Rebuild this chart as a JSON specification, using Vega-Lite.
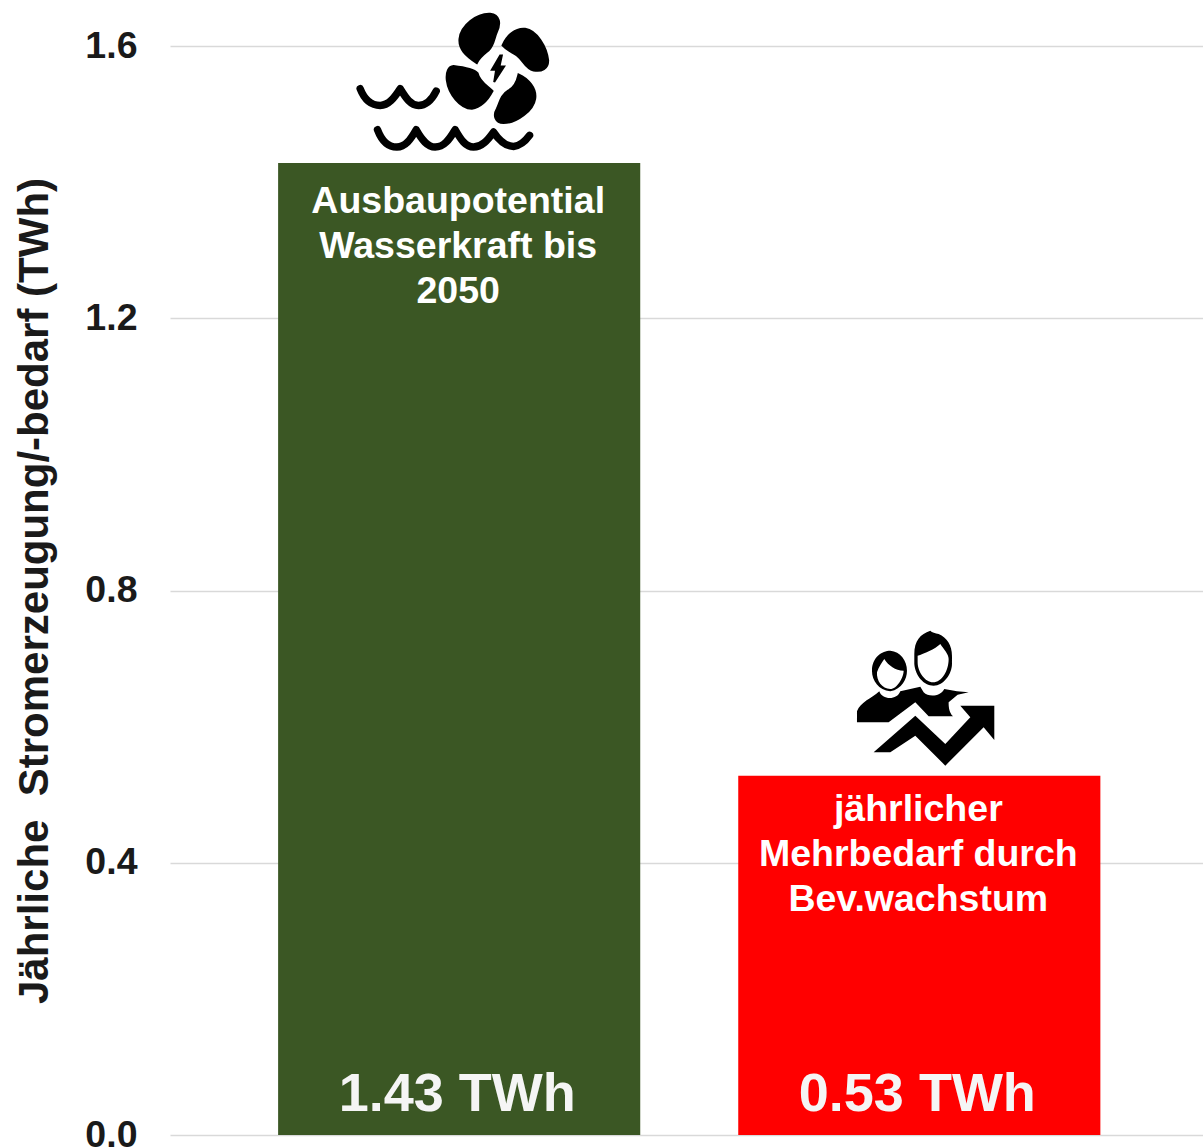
{
"$schema":"https://vega.github.io/schema/vega-lite/v6.json",
"width":1033,"height":1089,
"autosize":{"type":"none"},
"padding":{"left":170,"top":46,"right":0,"bottom":13},
"background":"white",
"view":{"stroke":null},
"config":{"font":"Liberation Sans"},
"data":{"values":[
{"name":"Ausbaupotential Wasserkraft bis 2050","value":1.428,"label":"Ausbaupotential\nWasserkraft bis\n2050","amount":"1.43 TWh"},
{"name":"jährlicher Mehrbedarf durch Bev.wachstum","value":0.528,"label":"jährlicher\nMehrbedarf durch\nBev.wachstum","amount":"0.53 TWh"}
]},
"encoding":{
"x":{"field":"name","type":"nominal","sort":null,"axis":null,"scale":{"paddingInner":0.213,"paddingOuter":0.229,"align":0.513}}
},
"layer":[
{"mark":{"type":"bar","clip":false},
"encoding":{
"y":{"field":"value","type":"quantitative","scale":{"domain":[0,1.6],"nice":false},
"axis":{"values":[0,0.4,0.8,1.2,1.6],"format":".1f","grid":true,"gridColor":"#d9d9d9","gridWidth":1.5,"domain":false,"ticks":false,"labelPadding":33,"labelFontSize":37.5,"labelFontWeight":"bold","labelColor":"#1a1a1a","labelFont":"Liberation Sans","title":"Jährliche\u00a0\u00a0Stromerzeugung/-bedarf (TWh)","titleFontSize":42,"titleFontWeight":"bold","titleColor":"#1a1a1a","titleFont":"Liberation Sans","titlePadding":28}},
"color":{"field":"name","type":"nominal","legend":null,"sort":null,"scale":{"range":["#3b5724","#ff0000"]}}
}},
{"mark":{"type":"text","fontSize":54,"fontWeight":"bold","color":"#f5f5f5","baseline":"alphabetic","align":"center","dy":-24,"dx":-2},
"encoding":{"y":{"datum":0,"type":"quantitative"},"text":{"field":"amount"}}},
{"transform":[{"filter":"datum.value > 1"}],"layer":[
{"mark":{"type":"text","lineBreak":"\n","lineHeight":45,"fontSize":37.5,"fontWeight":"bold","color":"white","baseline":"alphabetic","align":"center","dy":50,"dx":-1},
"encoding":{"y":{"field":"value","type":"quantitative"},"text":{"field":"label"}}},
{"mark":{"type":"point","filled":true,"opacity":1,"color":"black","stroke":"black","strokeWidth":2,"size":0.4444,"shape":"M53 -300C18 -323 -2 -343 1 -373C5 -413 53 -450 93 -448C123 -444 125 -418 113 -393C105 -376 105 -353 88 -338C73 -326 61 -318 53 -300ZM130 -353C143 -383 168 -406 198 -403C233 -398 263 -348 267 -308C267 -283 248 -273 223 -278C198 -283 193 -308 173 -323C158 -333 143 -338 130 -353ZM178 -266C208 -253 233 -223 228 -193C223 -158 173 -120 133 -120C108 -120 101 -143 113 -163C123 -183 123 -203 148 -218C163 -226 173 -243 178 -266ZM-17 -291C8 -288 43 -283 55 -270C61 -243 83 -233 100 -216C88 -193 68 -168 38 -163C3 -163 -32 -208 -37 -248C-40 -273 -32 -290 -17 -291ZM123 -323L98 -280L111 -280L105 -243L135 -290L121 -290L128 -323Z"},
"encoding":{"y":{"field":"value","type":"quantitative"}}},
{"mark":{"type":"point","filled":false,"opacity":1,"stroke":"black","strokeWidth":7.5,"strokeCap":"round","strokeJoin":"round","size":0.4444,"shape":"M-297 -223C-285 -192 -265 -173 -237 -173C-212 -173 -195 -195 -177 -223C-160 -195 -145 -173 -122 -173C-100 -173 -82 -190 -69 -216M-245 -100C-233 -68 -213 -48 -187 -48C-162 -48 -146 -70 -129 -100C-112 -70 -96 -48 -72 -48C-46 -48 -30 -70 -12 -100C5 -70 20 -48 43 -48C68 -48 85 -68 103 -93C120 -68 140 -50 163 -50C185 -52 198 -65 211 -83"},
"encoding":{"y":{"field":"value","type":"quantitative"}}}
]},
{"transform":[{"filter":"datum.value < 1"}],"layer":[
{"mark":{"type":"text","lineBreak":"\n","lineHeight":45,"fontSize":37.5,"fontWeight":"bold","color":"white","baseline":"alphabetic","align":"center","dy":45,"dx":-1},
"encoding":{"y":{"field":"value","type":"quantitative"},"text":{"field":"label"}}},
{"mark":{"type":"point","filled":true,"opacity":1,"color":"black","size":0.4444,"shape":"M-187 -160L-187 -193C-177 -220 -142 -233 -120 -253C-112 -227 -67 -225 -57 -253L3 -267L13 -250C28 -235 63 -237 75 -260L113 -253L148 -250L115 -243L88 -220C88 -210 88 -190 101 -178L28 -178L-12 -220L-92 -160ZM-137 -70L-12 -180L78 -95L153 -175L123 -210L225 -210L225 -107L193 -145L78 -30L-12 -120L-87 -70ZM-142 -315C-142 -355 -112 -375 -87 -375C-57 -373 -37 -345 -37 -315C-37 -290 -52 -260 -87 -253C-122 -257 -142 -285 -142 -315ZM-15 -365C-15 -405 3 -425 33 -435C38 -430 48 -427 58 -425C83 -415 98 -390 98 -360L98 -335C98 -305 73 -270 43 -270C13 -270 -12 -300 -15 -335Z"},
"encoding":{"y":{"field":"value","type":"quantitative"}}},
{"mark":{"type":"point","filled":true,"opacity":1,"color":"white","size":0.4444,"shape":"M-127 -310C-122 -325 -112 -340 -105 -350C-92 -330 -72 -315 -47 -315C-47 -295 -67 -260 -87 -260C-112 -260 -129 -285 -127 -310ZM-5 -360C13 -365 48 -380 63 -395C73 -380 88 -365 88 -350C88 -315 68 -280 41 -280C18 -280 -5 -310 -5 -340Z"},
"encoding":{"y":{"field":"value","type":"quantitative"}}}
]}
]
}
